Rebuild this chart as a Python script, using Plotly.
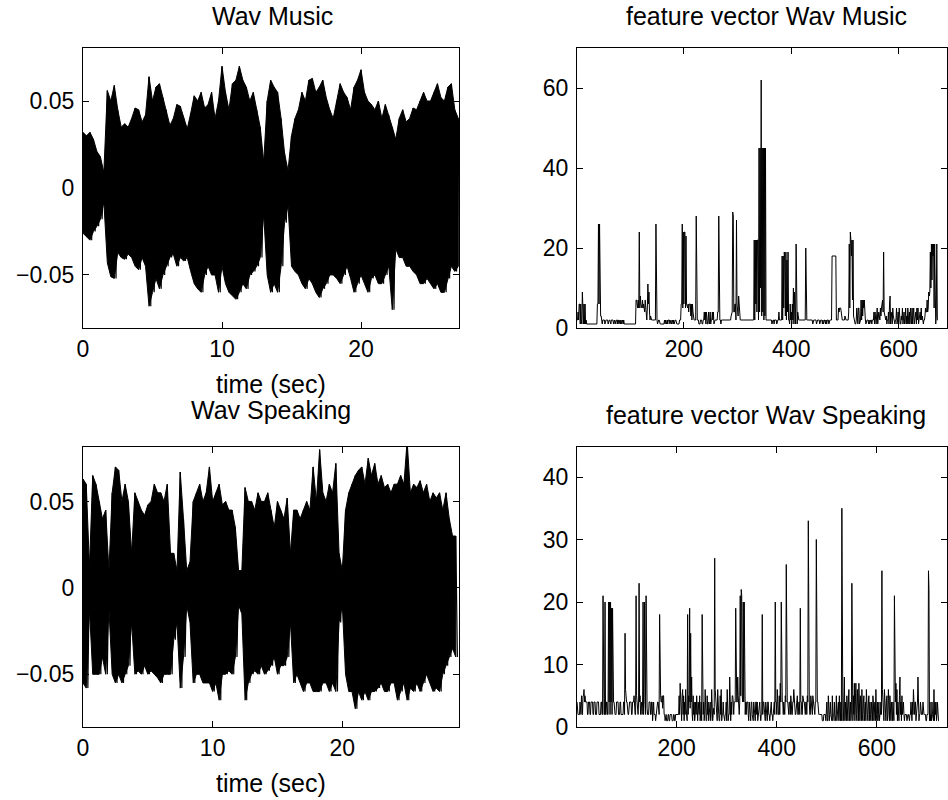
import plotly.graph_objects as go

# ---------------- data ----------------
# Waveform envelopes (upper / lower peak per 0.25 s bin)
music_dt = 0.25
music_upper = [0.032, 0.030, 0.032, 0.028, 0.021, 0.018, 0.009, 0.056, 0.050, 0.059, 0.045, 0.035,
               0.037, 0.035, 0.040, 0.046, 0.045, 0.038, 0.042, 0.064, 0.050, 0.058, 0.060, 0.052,
               0.045, 0.036, 0.040, 0.048, 0.047, 0.040, 0.034, 0.043, 0.053, 0.050, 0.055, 0.046,
               0.048, 0.055, 0.040, 0.050, 0.070, 0.055, 0.045, 0.060, 0.062, 0.070, 0.062, 0.058,
               0.050, 0.055, 0.045, 0.035, 0.015, 0.050, 0.062, 0.058, 0.055, 0.040, 0.020, 0.010,
               0.030, 0.040, 0.045, 0.055, 0.050, 0.062, 0.063, 0.055, 0.058, 0.062, 0.052, 0.045,
               0.040, 0.050, 0.060, 0.055, 0.052, 0.045, 0.058, 0.062, 0.068, 0.055, 0.050, 0.048,
               0.045, 0.050, 0.040, 0.048, 0.042, 0.035, 0.028, 0.040, 0.045, 0.038, 0.040, 0.046,
               0.045, 0.050, 0.055, 0.050, 0.050, 0.055, 0.060, 0.052, 0.050, 0.058, 0.060, 0.045,
               0.040]
music_lower = [-0.026, -0.028, -0.030, -0.025, -0.022, -0.018, -0.008, -0.043, -0.051, -0.052, -0.037, -0.040,
               -0.041, -0.038, -0.040, -0.045, -0.047, -0.040, -0.045, -0.068, -0.060, -0.052, -0.058, -0.050,
               -0.045, -0.040, -0.038, -0.045, -0.040, -0.042, -0.040, -0.048, -0.055, -0.058, -0.060, -0.050,
               -0.045, -0.050, -0.050, -0.060, -0.045, -0.055, -0.060, -0.062, -0.064, -0.060, -0.055, -0.058,
               -0.050, -0.048, -0.045, -0.040, -0.015, -0.050, -0.060, -0.055, -0.060, -0.045, -0.020, -0.010,
               -0.045, -0.048, -0.050, -0.055, -0.058, -0.052, -0.055, -0.060, -0.063, -0.058, -0.055, -0.050,
               -0.050, -0.052, -0.055, -0.050, -0.045, -0.052, -0.060, -0.055, -0.050, -0.055, -0.060, -0.052,
               -0.050, -0.055, -0.055, -0.050, -0.045, -0.070, -0.035, -0.040, -0.040, -0.045, -0.045, -0.048,
               -0.050, -0.055, -0.055, -0.052, -0.055, -0.058, -0.055, -0.060, -0.060, -0.052, -0.045, -0.048,
               -0.045]

speak_dt = 0.25
speak_upper = [0.063, 0.060, 0.012, 0.065, 0.060, 0.050, 0.040, 0.045, 0.010, 0.055, 0.070, 0.068,
               0.050, 0.060, 0.050, 0.020, 0.055, 0.050, 0.045, 0.042, 0.048, 0.050, 0.060, 0.055,
               0.055, 0.050, 0.060, 0.020, 0.020, 0.010, 0.067, 0.040, 0.010, 0.015, 0.050, 0.055,
               0.060, 0.050, 0.055, 0.070, 0.050, 0.055, 0.060, 0.048, 0.050, 0.045, 0.045, 0.035,
               0.010, 0.010, 0.058, 0.050, 0.050, 0.045, 0.055, 0.050, 0.050, 0.055, 0.045, 0.035,
               0.050, 0.045, 0.040, 0.052, 0.020, 0.045, 0.045, 0.040, 0.045, 0.050, 0.045, 0.070,
               0.050, 0.080, 0.055, 0.050, 0.060, 0.055, 0.072, 0.020, 0.010, 0.045, 0.055, 0.060,
               0.065, 0.068, 0.070, 0.060, 0.075, 0.065, 0.072, 0.060, 0.065, 0.058, 0.060, 0.055,
               0.060, 0.060, 0.065, 0.060, 0.085, 0.055, 0.060, 0.058, 0.062, 0.055, 0.060, 0.050,
               0.055, 0.052, 0.055, 0.045, 0.055, 0.040, 0.030, 0.030]
speak_lower = [-0.055, -0.058, -0.012, -0.050, -0.050, -0.050, -0.040, -0.050, -0.012, -0.050, -0.055, -0.050,
               -0.055, -0.050, -0.045, -0.020, -0.050, -0.048, -0.050, -0.045, -0.050, -0.048, -0.050, -0.052,
               -0.055, -0.050, -0.050, -0.050, -0.030, -0.020, -0.058, -0.040, -0.010, -0.020, -0.055, -0.050,
               -0.050, -0.055, -0.055, -0.055, -0.060, -0.055, -0.065, -0.050, -0.050, -0.048, -0.050, -0.040,
               -0.010, -0.015, -0.065, -0.055, -0.050, -0.048, -0.050, -0.045, -0.050, -0.048, -0.045, -0.040,
               -0.050, -0.045, -0.045, -0.040, -0.020, -0.055, -0.050, -0.055, -0.060, -0.055, -0.055, -0.060,
               -0.060, -0.060, -0.055, -0.055, -0.060, -0.055, -0.060, -0.020, -0.010, -0.050, -0.060, -0.060,
               -0.070, -0.060, -0.065, -0.060, -0.065, -0.060, -0.060, -0.058, -0.055, -0.060, -0.060, -0.055,
               -0.055, -0.065, -0.060, -0.055, -0.065, -0.058, -0.060, -0.055, -0.060, -0.055, -0.050, -0.055,
               -0.060, -0.058, -0.060, -0.050, -0.045, -0.040, -0.035, -0.040]

# Feature vectors as run-length segments [value, count], index starting at 1
music_feature_runs = [
    [2, 2], [4, 1], [2, 1], [6, 2], [1, 1], [6, 1], [2, 1], [1, 1], [9, 1], [1, 2], [6, 1], [1, 1], [6, 1], [1, 1], [2, 1],
    [1, 20],
    [6, 2], [26, 1], [6, 1], [26, 1], [6, 1], [3, 1],
    [3, 1], [1, 2],
    [2, 4], [1, 1], [2, 5], [1, 1], [2, 3], [1, 2], [2, 4], [1, 1], [2, 2], [1, 1], [2, 3], [1, 1], [2, 2], [1, 1], [2, 2],
    [1, 1], [2, 1], [1, 1], [2, 2], [1, 1], [2, 1],
    [1, 22],
    [7, 2], [6, 1], [5, 1], [7, 1], [5, 1], [24, 1], [5, 1], [8, 1], [6, 1], [5, 2], [7, 1], [5, 1], [6, 1], [5, 1], [4, 1],
    [7, 1], [5, 1], [3, 1], [2, 1], [5, 1], [11, 1], [6, 1], [9, 1], [4, 1], [2, 1], [3, 1], [2, 3],
    [2, 6], [26, 1], [2, 2], [1, 1], [2, 3], [1, 1],
    [1, 8], [2, 1], [1, 1], [2, 1], [1, 2], [2, 1], [1, 1], [2, 3], [1, 1], [2, 2], [1, 1], [2, 2], [1, 1], [2, 1], [1, 1],
    [2, 3], [1, 6], [2, 3],
    [6, 2], [26, 1], [5, 1], [24, 1], [6, 1], [24, 2], [5, 1], [23, 1], [6, 1], [5, 2], [6, 1], [4, 1], [6, 1],
    [6, 2], [3, 1], [6, 1], [2, 1], [6, 1], [4, 1], [2, 5],
    [28, 1],
    [2, 4], [1, 3], [2, 3], [1, 2], [2, 2], [4, 1], [2, 1], [4, 1], [1, 1], [4, 1], [2, 1], [1, 2], [4, 1], [2, 1], [1, 1],
    [4, 1], [1, 1], [2, 2], [4, 1], [2, 1], [4, 1], [1, 1], [2, 6], [4, 2],
    [28, 1],
    [2, 3], [1, 1], [2, 18], [3, 1], [4, 2],
    [29, 1], [28, 1], [4, 2], [6, 2], [2, 1], [27, 1], [6, 1], [3, 2], [8, 1], [6, 1], [2, 1],
    [2, 26],
    [22, 1], [2, 1], [22, 1], [6, 1], [22, 1], [4, 1], [22, 2], [2, 1], [45, 1], [4, 1], [45, 1], [10, 1], [62, 1], [3, 1],
    [45, 1], [4, 1], [45, 1], [2, 1], [45, 1], [3, 1], [45, 1], [2, 1],
    [2, 10], [1, 1], [2, 3], [1, 1], [2, 4], [1, 1], [2, 3], [4, 1], [2, 5],
    [18, 1], [2, 1], [18, 1], [5, 1], [19, 1], [17, 1], [3, 1], [19, 1], [2, 1], [17, 1], [4, 1], [19, 1], [2, 2], [1, 1],
    [6, 1], [2, 1], [4, 1],
    [1, 1], [6, 1], [2, 1], [10, 1], [1, 1], [9, 1], [4, 1], [1, 1], [21, 1], [3, 1], [1, 1], [4, 1], [2, 5],
    [2, 9], [20, 1],
    [2, 12], [1, 1], [2, 6], [1, 1], [2, 5], [1, 1], [2, 4], [1, 1], [2, 1], [1, 1], [2, 3], [1, 1], [2, 1], [1, 1], [2, 3],
    [1, 1], [2, 5],
    [18, 8],
    [2, 4], [5, 1], [4, 1], [5, 3], [4, 1], [2, 6], [3, 1], [2, 6], [4, 1],
    [21, 1], [5, 1], [24, 1], [22, 1], [18, 1], [22, 1], [7, 1], [22, 1], [3, 1], [2, 1],
    [1, 3], [2, 1], [5, 1], [2, 1], [1, 1], [5, 2], [1, 1], [2, 2], [7, 1], [2, 1], [7, 1], [3, 1], [7, 1], [5, 1], [7, 1],
    [2, 2], [1, 1], [2, 4], [1, 1], [2, 1], [1, 1], [2, 3], [1, 1], [2, 3], [4, 1], [1, 1], [4, 1], [2, 1], [1, 1], [3, 1],
    [5, 1], [1, 1], [2, 1], [4, 1], [3, 1], [2, 1], [5, 1], [3, 1], [5, 1], [6, 1], [7, 1],
    [4, 1], [19, 1], [4, 1], [3, 1], [2, 2], [3, 1], [1, 1], [2, 2],
    [4, 1], [1, 1], [6, 1], [8, 1], [1, 1], [4, 1], [3, 1], [1, 1], [5, 1], [3, 1], [2, 1], [1, 2], [2, 2],
    [5, 1], [1, 1], [2, 1], [4, 1], [1, 1], [5, 1], [2, 1], [1, 2], [3, 1], [2, 1], [5, 1], [1, 1], [2, 1], [4, 1], [1, 1],
    [2, 1], [5, 1], [1, 1], [3, 1], [1, 1], [5, 1], [2, 1], [1, 1], [4, 1], [1, 1], [5, 1], [2, 1], [1, 1], [5, 1], [1, 1],
    [3, 1], [5, 1], [1, 1], [2, 2], [4, 1], [1, 1], [5, 1], [2, 1], [5, 1], [1, 1], [2, 2], [4, 1], [2, 1], [5, 1], [2, 1],
    [3, 1], [2, 1], [1, 1], [2, 2], [3, 1], [5, 1], [4, 1],
    [4, 1], [7, 1], [4, 1], [5, 1], [9, 1], [8, 1], [9, 1], [19, 1], [10, 1], [21, 1], [12, 1], [21, 1], [18, 1], [21, 1],
    [5, 1], [21, 1], [2, 1], [1, 1], [3, 1], [21, 1], [2, 2],
]

speak_feature_runs = [
    [4, 1], [2, 5], [4, 1], [2, 2], [5, 1], [2, 2],
    [5, 2], [6, 1], [4, 1], [5, 1], [4, 4], [2, 2],
    [4, 3], [2, 2], [4, 4], [2, 2], [4, 3], [2, 3], [4, 4], [2, 4], [4, 2], [2, 2],
    [21, 1], [2, 3], [20, 1], [2, 2], [4, 2], [2, 2], [20, 1], [4, 1], [20, 1], [2, 1], [20, 1], [4, 1], [19, 1], [2, 1],
    [19, 1], [4, 3],
    [2, 4], [4, 4], [2, 3], [4, 2], [2, 5], [4, 2],
    [2, 1], [15, 1], [6, 1],
    [4, 3], [2, 3], [4, 5], [2, 2], [4, 3], [5, 1], [2, 3],
    [21, 1], [5, 1], [4, 2], [2, 1], [4, 1], [23, 1], [4, 1], [5, 1], [2, 1], [4, 2], [2, 1], [4, 1], [20, 1], [2, 1],
    [4, 1], [20, 1], [4, 1], [2, 1], [21, 1], [4, 1], [3, 1],
    [2, 3], [4, 3], [2, 2], [4, 2], [1, 1], [4, 2], [2, 3], [1, 1], [2, 2], [4, 3], [2, 2],
    [18, 1],
    [5, 2], [4, 2], [5, 1], [3, 1], [5, 2], [2, 2], [1, 1], [2, 2],
    [1, 3], [2, 2], [1, 2], [2, 4], [1, 3], [2, 2], [1, 2], [2, 7],
    [5, 1], [2, 1], [7, 1], [4, 1], [2, 1], [1, 1], [5, 1], [6, 1], [2, 1], [5, 1], [1, 1], [4, 1], [2, 1], [6, 1], [3, 1],
    [2, 1], [1, 1],
    [18, 1], [2, 1], [5, 1], [4, 1], [19, 1], [3, 1], [15, 1], [4, 1], [8, 1], [2, 1], [1, 1], [5, 1], [2, 1], [4, 1],
    [1, 1], [2, 1], [4, 1], [2, 1],
    [5, 1], [2, 1], [1, 1], [4, 1], [2, 2], [5, 1], [1, 1], [2, 1], [4, 1], [1, 1],
    [18, 1],
    [2, 2], [4, 1], [1, 1], [2, 1], [6, 1], [2, 1], [1, 2], [5, 1], [2, 1], [4, 1], [1, 1], [2, 2], [4, 1], [1, 1], [2, 1],
    [6, 1], [2, 1], [1, 1], [2, 1], [3, 1], [2, 1],
    [27, 1],
    [6, 1], [4, 2], [2, 1], [1, 1], [6, 1], [2, 2], [1, 2], [5, 1], [2, 1], [6, 1], [1, 1], [2, 2], [4, 1], [2, 1], [1, 2],
    [2, 2], [4, 1], [1, 1], [6, 1], [2, 1], [1, 1], [2, 2], [8, 1], [2, 1], [1, 1], [4, 1], [2, 1], [5, 2], [4, 1], [2, 1],
    [4, 3],
    [19, 1],
    [5, 1], [4, 2], [8, 1], [5, 1], [4, 1], [2, 1], [4, 1], [21, 1], [5, 1], [22, 1], [21, 1], [5, 1], [4, 1], [20, 1],
    [4, 1], [20, 1], [5, 1], [2, 1], [4, 1], [2, 1],
    [4, 3], [2, 1], [1, 1], [4, 1], [2, 2], [1, 1], [4, 2], [2, 1], [1, 2], [4, 1], [2, 2], [1, 1], [4, 2], [2, 1], [4, 1],
    [1, 1], [2, 2], [4, 2], [2, 1], [1, 1], [2, 2],
    [18, 1],
    [2, 1], [4, 2], [2, 1], [1, 2], [4, 1], [2, 2], [1, 1], [4, 2], [2, 2], [1, 1], [2, 1], [4, 2], [2, 2], [1, 1], [2, 1],
    [4, 2], [2, 1],
    [20, 1],
    [4, 2], [2, 1], [6, 1], [4, 1], [2, 2], [5, 1], [2, 1], [7, 1], [4, 1],
    [20, 1],
    [7, 1], [4, 2], [2, 1], [4, 1], [3, 1], [2, 1], [5, 1], [4, 1],
    [26, 1],
    [6, 1], [4, 2], [2, 2], [4, 2], [2, 1], [5, 1], [4, 1], [2, 2], [4, 2], [6, 1], [4, 2], [2, 2], [4, 2], [5, 1], [2, 2],
    [4, 2], [2, 1],
    [19, 1],
    [4, 2], [2, 2], [5, 1], [4, 3], [2, 2], [4, 2], [2, 1], [5, 1], [4, 1],
    [33, 1],
    [4, 2], [2, 2], [5, 1], [4, 2], [2, 1], [5, 1], [4, 2], [2, 2], [4, 2],
    [30, 1],
    [4, 3], [2, 8], [1, 3], [2, 4], [1, 1], [2, 1], [4, 1], [1, 2], [5, 1], [2, 1], [1, 1], [2, 1], [4, 1], [2, 1], [1, 2],
    [5, 1], [1, 1], [2, 2], [4, 1], [1, 2], [2, 1], [5, 1], [1, 1], [2, 2], [4, 1], [1, 1],
    [5, 1], [2, 1], [1, 1], [4, 1], [1, 1],
    [35, 1],
    [2, 1], [1, 2], [5, 1], [8, 1], [1, 1], [4, 1], [2, 1], [1, 1], [5, 1], [2, 1], [1, 1], [4, 1], [6, 1], [1, 1], [2, 1],
    [4, 1], [1, 1], [2, 1],
    [23, 1],
    [4, 1], [1, 1], [5, 1], [2, 1], [7, 1], [1, 1], [4, 1], [7, 1], [2, 1], [1, 1], [6, 1], [4, 1], [1, 1], [7, 1], [2, 1],
    [1, 1], [5, 1], [4, 1], [1, 1], [6, 1], [2, 1], [1, 1], [4, 1], [5, 1], [1, 1], [2, 1], [4, 1], [1, 1], [6, 1], [4, 1],
    [2, 1], [1, 1], [4, 1], [5, 1], [1, 1], [4, 1], [2, 1], [1, 1], [4, 1], [2, 1], [1, 1], [5, 1], [4, 1], [1, 1], [2, 1],
    [4, 1], [1, 1], [6, 1], [2, 1], [1, 1], [4, 1], [1, 1], [2, 1], [4, 1], [1, 1], [2, 2], [4, 1], [2, 1],
    [25, 1],
    [6, 1], [4, 1], [2, 1], [1, 1], [6, 1], [4, 1], [2, 1], [1, 1], [4, 1], [5, 1], [1, 1], [2, 1], [6, 1], [4, 1], [1, 1],
    [5, 1], [2, 1], [1, 1], [4, 1], [2, 1], [1, 1], [4, 1], [2, 1], [1, 1],
    [21, 1],
    [7, 1], [4, 1], [7, 1], [2, 1], [6, 1], [1, 1], [4, 1], [2, 1], [1, 1], [5, 1], [8, 1], [2, 1], [4, 1], [1, 1], [5, 1],
    [2, 1], [4, 2], [2, 1], [1, 1], [2, 4], [1, 1], [2, 3], [1, 2], [2, 2], [4, 1], [2, 1], [1, 1], [4, 1], [2, 1], [6, 1],
    [4, 1], [2, 1], [4, 2], [1, 1], [2, 2], [4, 1], [8, 1], [2, 1], [1, 1], [2, 2], [4, 1], [2, 4], [4, 1], [2, 2],
    [2, 3], [1, 2], [2, 3],
    [25, 1], [22, 1],
    [1, 1], [4, 1], [1, 1], [2, 1], [1, 1], [4, 1], [2, 1], [1, 2], [6, 1], [1, 1], [4, 1], [2, 1], [4, 1], [1, 1], [2, 1],
    [4, 1], [1, 1], [1, 2],
]

titles = ["Wav Music", "feature vector Wav Music", "Wav Speaking", "feature vector Wav Speaking"]
xlabel = "time (sec)"

wave_xticks = [0, 10, 20]
wave_yticks = [-0.05, 0, 0.05]
wave_yticktext = ["\u22120.05", "0", "0.05"]
feat_xticks = [200, 400, 600]
music_feat_yticks = [0, 20, 40, 60]
speak_feat_yticks = [0, 10, 20, 30, 40]


# ---------------- helpers ----------------
def zigzag(upper, lower, dt):
    xs, ys = [], []
    for i, (u, l) in enumerate(zip(upper, lower)):
        t = i * dt
        xs += [t, t + dt / 2]
        ys += [u, l]
    return xs, ys


def envelope_polygon(upper, lower, dt):
    ts = [i * dt for i in range(len(upper))]
    return ts + ts[::-1], list(upper) + list(lower)[::-1]


def expand(runs):
    vals = []
    for v, c in runs:
        vals += [v] * c
    return list(range(1, len(vals) + 1)), vals


FONT = "Liberation Sans, Arial, Helvetica, sans-serif"
fig = go.Figure()

for up, lo, dt, xa, ya in [(music_upper, music_lower, music_dt, "x", "y"),
                           (speak_upper, speak_lower, speak_dt, "x3", "y3")]:
    px_, py_ = envelope_polygon(up, lo, dt)
    fig.add_trace(go.Scatter(x=px_, y=py_, mode="lines", fill="toself", fillcolor="black",
                             line=dict(color="black", width=1), xaxis=xa, yaxis=ya,
                             showlegend=False, hoverinfo="skip"))
    zx, zy = zigzag(up, lo, dt)
    fig.add_trace(go.Scatter(x=zx, y=zy, mode="lines", line=dict(color="black", width=1.2),
                             xaxis=xa, yaxis=ya, showlegend=False))

fmx, fmy = expand(music_feature_runs)
fsx, fsy = expand(speak_feature_runs)
fig.add_trace(go.Scatter(x=fmx, y=fmy, mode="lines", line=dict(color="black", width=1),
                         xaxis="x2", yaxis="y2", showlegend=False))
fig.add_trace(go.Scatter(x=fsx, y=fsy, mode="lines", line=dict(color="black", width=1),
                         xaxis="x4", yaxis="y4", showlegend=False))

W, H = 948, 800


def xd(a, b):
    return [a / W, b / W]


def yd(top, bottom):
    return [1 - bottom / H, 1 - top / H]


L_dom = xd(83, 459)
R_dom = xd(577, 947)
T_dom = yd(48, 328)
B_dom = yd(447, 727)

tickfont = dict(family=FONT, size=23, color="black")
common = dict(showline=True, linecolor="black", linewidth=1.2, mirror="ticks", ticks="inside",
              ticklen=6, tickcolor="black", tickwidth=1, showgrid=False, zeroline=False,
              tickfont=tickfont, automargin=False)
ycommon = dict(common, ticklabelstandoff=3)

fig.update_layout(
    template="none",
    width=W, height=H, margin=dict(l=0, r=0, t=0, b=0, autoexpand=False),
    paper_bgcolor="white", plot_bgcolor="white", showlegend=False,
    xaxis=dict(domain=L_dom, anchor="y", range=[0, 27.05], tickvals=wave_xticks, **common),
    yaxis=dict(domain=T_dom, anchor="x", range=[-0.0805, 0.0805], tickvals=wave_yticks,
               ticktext=wave_yticktext, **ycommon),
    xaxis2=dict(domain=R_dom, anchor="y2", range=[1, 690], tickvals=feat_xticks, **common),
    yaxis2=dict(domain=T_dom, anchor="x2", range=[0, 70], tickvals=music_feat_yticks, **ycommon),
    xaxis3=dict(domain=L_dom, anchor="y3", range=[0, 29.0], tickvals=wave_xticks, **common),
    yaxis3=dict(domain=B_dom, anchor="x3", range=[-0.0805, 0.0815], tickvals=wave_yticks,
                ticktext=wave_yticktext, **ycommon),
    xaxis4=dict(domain=R_dom, anchor="y4", range=[1, 740], tickvals=feat_xticks, **common),
    yaxis4=dict(domain=B_dom, anchor="x4", range=[0, 44.8], tickvals=speak_feat_yticks, **ycommon),
)

title_font = dict(family=FONT, size=25, color="black")
ann = [
    (titles[0], 272, 16),
    (titles[1], 766, 16),
    (titles[2], 271, 410),
    (titles[3], 766, 415),
    (xlabel, 271, 384),
    (xlabel, 271, 783),
]
for text, x, y in ann:
    fig.add_annotation(text=text, x=x / W, y=1 - y / H, xref="paper", yref="paper",
                       showarrow=False, font=title_font, xanchor="center", yanchor="middle")

# remove the browser's default body margin so the figure sits at the page's top-left corner
fig.write_html("out.html", config={"displayModeBar": False},
               post_script="document.body.style.margin='0';")
